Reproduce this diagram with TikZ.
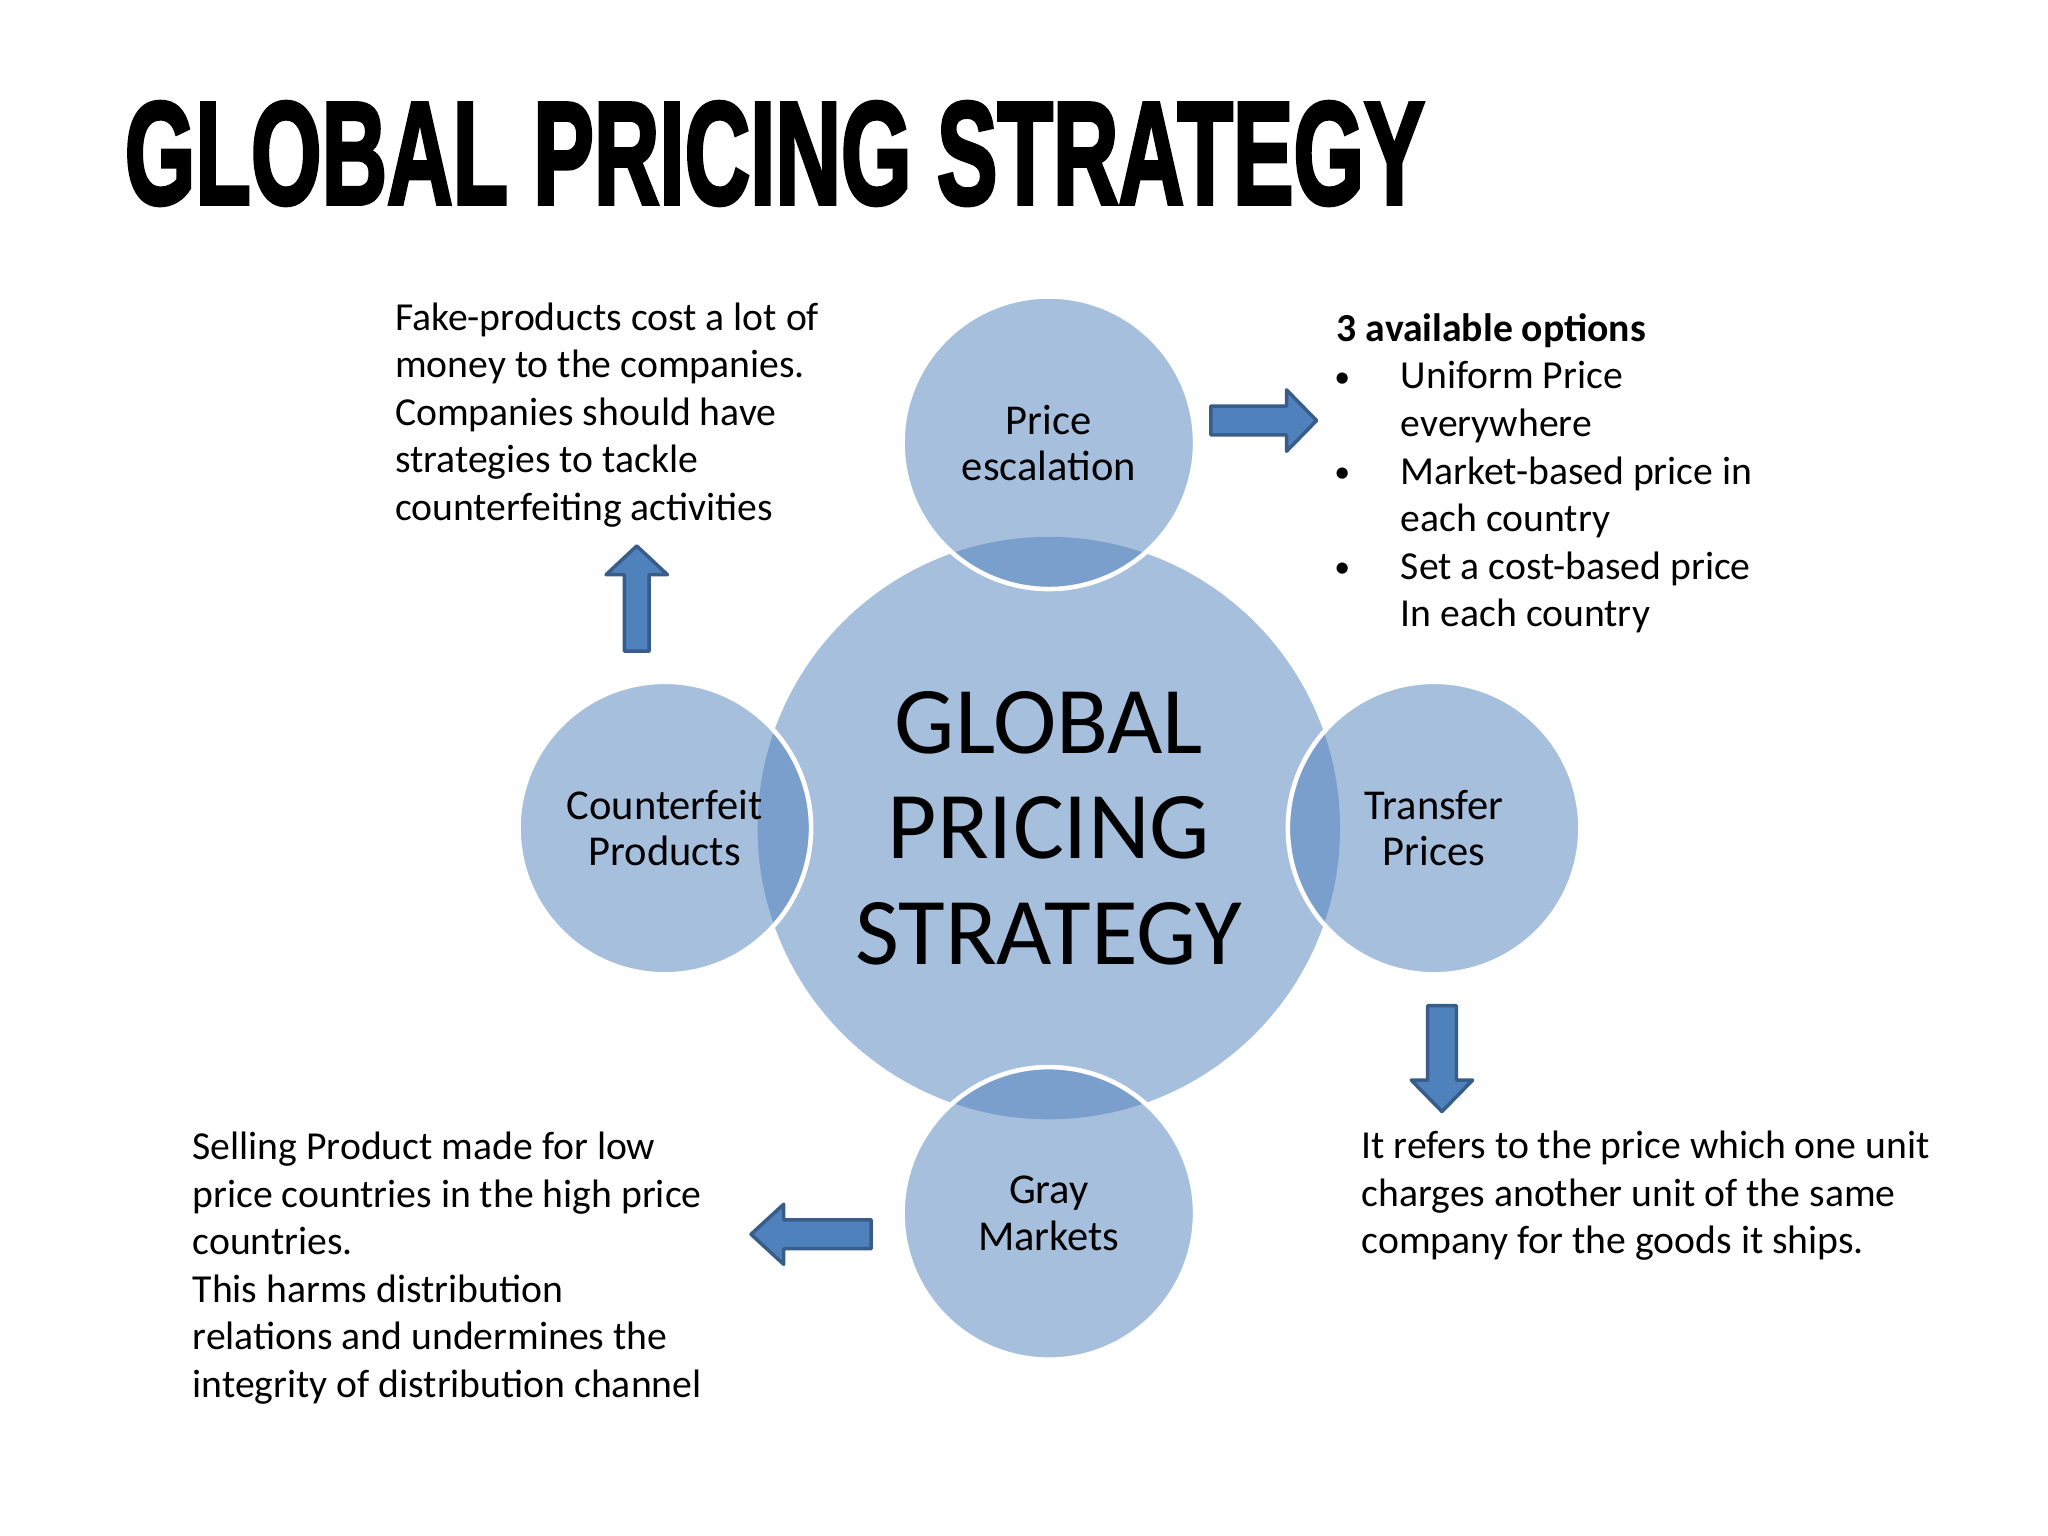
\documentclass[tikz,border=0pt]{standalone}
\usepackage{fontspec}
\setmainfont{Carlito}
\newfontfamily\titlefont{Liberation Sans}[BoldFeatures={FakeBold=3}]
\definecolor{accentblue}{HTML}{4F81BD}
\definecolor{arrowedge}{HTML}{385D8A}
\newdimen\pxu \pxu=0.013061cm
\newcommand\bul{\makebox[49\pxu][l]{\hspace*{-2\pxu}\raisebox{1.2\pxu}{\scalebox{0.8}{•}}}}
\newcommand\ind{\hspace*{49\pxu}}
\tikzset{
  bodytext/.style={font=\fontsize{11.29}{13.55}\selectfont, align=left, inner sep=0pt, anchor=base west},
  bigcircle/.style={circle, inner sep=0pt, minimum size=446\pxu, fill=accentblue, fill opacity=0.5, text opacity=1,
     align=center, font=\fontsize{27.2}{30}\selectfont},
  satellite/.style={circle, inner sep=0pt, minimum size=224\pxu, fill=accentblue, fill opacity=0.5, text opacity=1,
     draw=white, draw opacity=1, line width=1.3pt, align=center, font=\fontsize{12.1}{13.2}\selectfont},
  blockarrow/.style={fill=accentblue, draw=arrowedge, line width=1pt, line join=round}
}
\begin{document}
\begin{tikzpicture}[x=0.013061cm, y=-0.013061cm]
\useasboundingbox (0,0) rectangle (1568,1176);
\fill[white] (0,0) rectangle (1568,1176);

% title
\node[anchor=base west, inner sep=0pt] (title) at (95,156)
  {\resizebox{995\pxu}{78\pxu}{\titlefont\bfseries GLOBAL PRICING STRATEGY}};

% circles
\node[bigcircle] (center) at (803,634) {GLOBAL\\PRICING\\STRATEGY};
\node[satellite] (price) at (803,339) {Price\\escalation};
\node[satellite] (transfer) at (1098,634) {Transfer\\Prices};
\node[satellite] (gray) at (803,929) {Gray\\Markets};
\node[satellite] (counter) at (509,634) {Counterfeit\\Products};

% block arrows
\draw[blockarrow] (478,498.5) -- (497,498.5) -- (497,440) -- (511,440) -- (487.5,418) -- (464,440) -- (478,440) -- cycle;
\draw[blockarrow] (927,311) -- (985,311) -- (985,298.5) -- (1008,322) -- (985,345.5) -- (985,333) -- (927,333) -- cycle;
\draw[blockarrow] (1093,770) -- (1115,770) -- (1115,827) -- (1127.5,827) -- (1104,851) -- (1080.5,827) -- (1093,827) -- cycle;
\draw[blockarrow] (667,934) -- (600,934) -- (600,922) -- (575,945) -- (600,968) -- (600,956) -- (667,956) -- cycle;

% texts (anchored at the baseline of their last line)
\node[bodytext] (fake) at (302,398.6) {Fake-products cost a lot of\\money to the companies.\\Companies should have\\strategies to tackle\\counterfeiting activities};
\node[bodytext] (options) at (1023,480) {\textbf{3 available options}\\\bul Uniform Price\\\ind everywhere\\\bul Market-based price in\\\ind each country\\\bul Set a cost-based price\\\ind In each country};
\node[bodytext] (graytext) at (147,1070) {Selling Product made for low\\price countries in the high price\\countries.\\This harms distribution\\relations and undermines the\\integrity of distribution channel};
\node[bodytext] (transfertext) at (1042,960) {It refers to the price which one unit\\charges another unit of the same\\company for the goods it ships.};
\end{tikzpicture}
\end{document}
